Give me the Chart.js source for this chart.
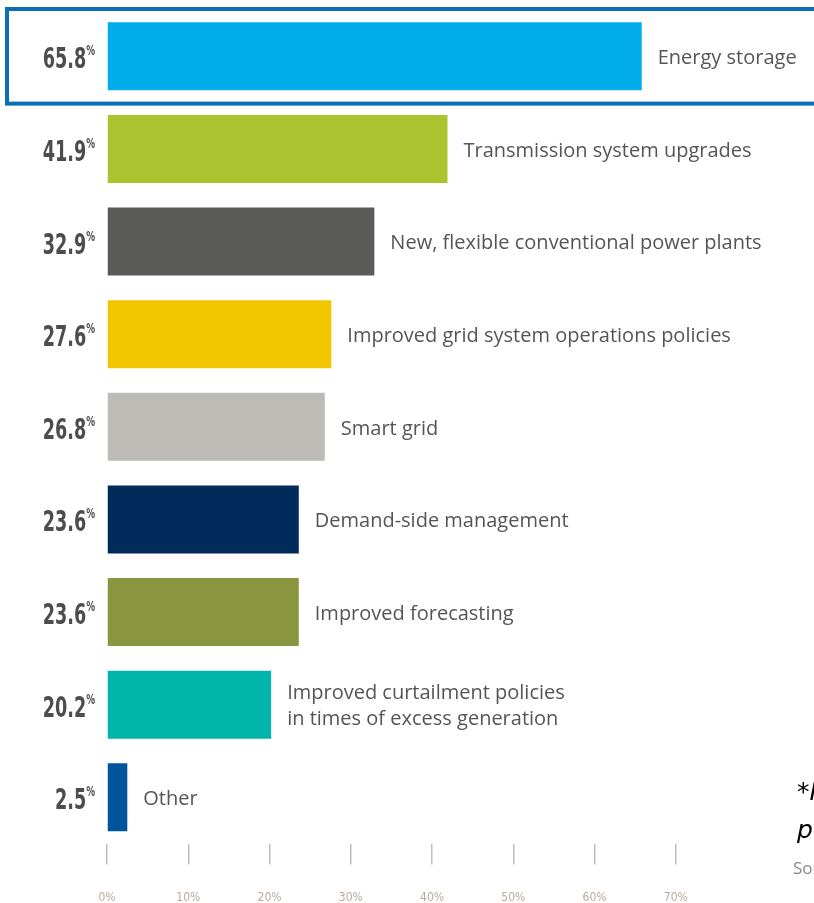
<!DOCTYPE html>
<html>
<head>
<meta charset="utf-8">
<script src="https://cdn.jsdelivr.net/npm/chart.js@4"></script>
<style>
  html, body { margin: 0; padding: 0; background: #fff; overflow: hidden; }
  #wrap { position: relative; width: 814px; height: 903px; overflow: hidden; }
  #note { position: absolute; left: 797px; top: 773px; white-space: nowrap; font-family: "DejaVu Sans", sans-serif; font-style: italic; font-size: 25px; color: #000; line-height: 38px; }
  #src { position: absolute; left: 793px; top: 856px; white-space: nowrap; font-family: "Open Sans", sans-serif; font-size: 17px; color: #888; }
</style>
</head>
<body>
<div id="wrap">
  <canvas id="c" width="814" height="903"></canvas>
  <div id="note">*Multiple answers<br>possible</div>
  <div id="src">Source: survey</div>
</div>
<script>
const categories = [
  "Energy storage",
  "Transmission system upgrades",
  "New, flexible conventional power plants",
  "Improved grid system operations policies",
  "Smart grid",
  "Demand-side management",
  "Improved forecasting",
  ["Improved curtailment policies", "in times of excess generation"],
  "Other"
];
const values = [65.8, 41.9, 32.9, 27.6, 26.8, 23.6, 23.6, 20.2, 2.5];
const barColors = ["#00ace9", "#abc32e", "#5a5b59", "#f2c600", "#bcbbb6", "#002b5b", "#89963f", "#00b5aa", "#00559a"];
const tickValues = [0, 10, 20, 30, 40, 50, 60, 70];

const labelPlugin = {
  id: 'labels',
  afterDatasetsDraw(chart) {
    const ctx = chart.ctx;
    const meta = chart.getDatasetMeta(0);
    const area = chart.chartArea;
    const sx = 0.7;
    meta.data.forEach((bar, i) => {
      // value label on the left (condensed)
      const rightX = area.left - 12;
      ctx.save();
      ctx.fillStyle = '#4d4d4d';
      ctx.textBaseline = 'alphabetic';
      ctx.textAlign = 'right';
      ctx.translate(rightX, bar.y);
      ctx.scale(sx, 1);
      ctx.font = 'bold 14px "DejaVu Sans Condensed", "DejaVu Sans", sans-serif';
      const pw = ctx.measureText('%').width;
      ctx.fillText('%', 0, -1);
      ctx.font = 'bold 28px "DejaVu Sans Condensed", "DejaVu Sans", sans-serif';
      ctx.fillText(values[i].toFixed(1), -pw, 12);
      ctx.restore();
      // category label on the right
      ctx.save();
      ctx.font = '20px "Open Sans", sans-serif';
      ctx.fillStyle = '#555';
      ctx.textAlign = 'left';
      ctx.textBaseline = 'middle';
      const lines = Array.isArray(categories[i]) ? categories[i] : [categories[i]];
      const lh = 26;
      const y0 = bar.y + 2 - (lines.length - 1) * lh / 2;
      lines.forEach((ln, k) => ctx.fillText(ln, bar.x + 16, y0 + k * lh));
      ctx.restore();
    });
    // highlight box around the first row
    const ys = chart.scales.y;
    const band = ys.getPixelForValue(1) - ys.getPixelForValue(0);
    const cy = ys.getPixelForValue(0);
    ctx.save();
    ctx.strokeStyle = '#0b6fb7';
    ctx.lineWidth = 4;
    ctx.strokeRect(7, cy - band / 2 - 1, chart.width + 20, band + 2);
    ctx.restore();
  }
};

new Chart(document.getElementById('c'), {
  type: 'bar',
  data: {
    labels: categories,
    datasets: [{
      data: values,
      backgroundColor: barColors,
      borderWidth: 0,
      barPercentage: 0.735,
      categoryPercentage: 1.0
    }]
  },
  options: {
    indexAxis: 'y',
    responsive: false,
    animation: false,
    events: [],
    layout: { padding: { left: 107, right: 0, top: 10, bottom: -28 } },
    plugins: { legend: { display: false }, tooltip: { enabled: false } },
    scales: {
      y: { display: false, offset: true },
      x: {
        min: 0,
        max: 87,
        afterBuildTicks(scale) { scale.ticks = tickValues.map(v => ({ value: v })); },
        border: { display: false },
        grid: { drawOnChartArea: false, drawTicks: true, tickLength: 21, color: '#bdbdbd', lineWidth: 1.5 },
        ticks: {
          padding: 26,
          autoSkip: false,
          maxRotation: 0,
          color: '#b9ab9c',
          font: { family: '"DejaVu Sans Condensed", sans-serif', size: 12 },
          callback: (v) => v + '%'
        }
      }
    }
  },
  plugins: [labelPlugin]
});
</script>
</body>
</html>
